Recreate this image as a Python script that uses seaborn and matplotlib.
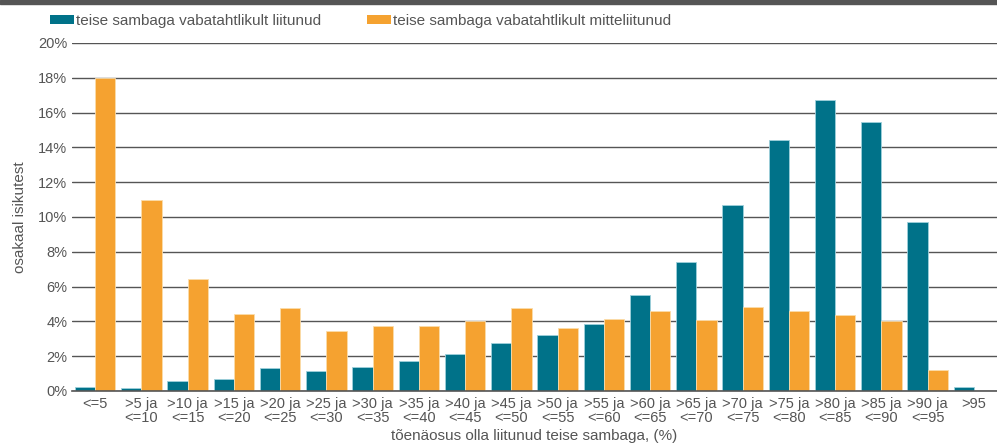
import numpy as np
import pandas as pd
import matplotlib
matplotlib.use("Agg")
import matplotlib.pyplot as plt
import seaborn as sns
from matplotlib.patches import Patch

categories = ["<=5", ">5 ja\n<=10", ">10 ja\n<=15", ">15 ja\n<=20", ">20 ja\n<=25",
              ">25 ja\n<=30", ">30 ja\n<=35", ">35 ja\n<=40", ">40 ja\n<=45",
              ">45 ja\n<=50", ">50 ja\n<=55", ">55 ja\n<=60", ">60 ja\n<=65",
              ">65 ja\n<=70", ">70 ja\n<=75", ">75 ja\n<=80", ">80 ja\n<=85",
              ">85 ja\n<=90", ">90 ja\n<=95", ">95"]
vabatahtlik = [0.25, 0.2, 0.6, 0.7, 1.3, 1.15, 1.4, 1.7, 2.15, 2.75,
               3.2, 3.85, 5.5, 7.4, 10.7, 14.4, 16.75, 15.45, 9.7, 0.25]
mitte = [18.0, 10.95, 6.45, 4.45, 4.75, 3.45, 3.75, 3.75, 4.05, 4.75,
         3.6, 4.15, 4.6, 4.1, 4.8, 4.6, 4.35, 4.05, 1.2, 0.0]
series = ["teise sambaga vabatahtlikult liitunud",
          "teise sambaga vabatahtlikult mitteliitunud"]
colors = ["#007289", "#F5A230"]
edges = ["#9fd0dc", "#fbdcaa"]

df = pd.DataFrame({
    "kat": categories * 2,
    "val": vabatahtlik + mitte,
    "grupp": [series[0]] * len(categories) + [series[1]] * len(categories),
})

sns.set_theme(style="white")
plt.rcParams["font.family"] = ["Liberation Sans", "DejaVu Sans"]
txt = "#555555"

fig = plt.figure(figsize=(9.97, 4.45), dpi=100)
ax = fig.add_axes([72 / 997, 1 - 391 / 445, 1 - 72 / 997, (391 - 43) / 445])

sns.barplot(data=df, x="kat", y="val", hue="grupp", hue_order=series,
            palette=colors, saturation=1, width=0.88, ax=ax, legend=False)
n = len(categories)
for i, p in enumerate(ax.patches[:2 * n]):
    p.set_edgecolor(edges[i // n])
    p.set_linewidth(0.6)

ax.set_xlim(-0.5, n - 0.5)
ax.set_ylim(0, 20)
ax.set_yticks(range(0, 21, 2))
ax.set_yticklabels([f"{v}%" for v in range(0, 21, 2)])
ax.yaxis.grid(True, color="#555555", lw=1)
ax.set_axisbelow(True)
for s in ["top", "right", "left"]:
    ax.spines[s].set_visible(False)
ax.spines["bottom"].set_color("#555555")
ax.spines["bottom"].set_linewidth(1.2)
ax.tick_params(axis="both", length=0, labelsize=10.5, colors=txt)
ax.tick_params(axis="x", pad=4)
ax.set_xlabel("tõenäosus olla liitunud teise sambaga, (%)", fontsize=11, color=txt, labelpad=3)
ax.set_ylabel("osakaal isikutest", fontsize=11, color=txt, labelpad=8)
for lab in ax.get_xticklabels():
    lab.set_linespacing(1.0)

handles = [Patch(facecolor=c, edgecolor="none") for c in colors]
fig.legend(handles, series, loc="upper left", bbox_to_anchor=(0.036, 1.0), ncol=2,
           frameon=False, fontsize=11, labelcolor=txt, handlelength=1.6,
           handleheight=0.55, handletextpad=0.1, columnspacing=3.0)

fig.patches.append(plt.Rectangle((0, 1 - 4 / 445), 1, 4 / 445, transform=fig.transFigure,
                                 color="#555555", zorder=10))

fig.savefig("out.png", dpi=100)
